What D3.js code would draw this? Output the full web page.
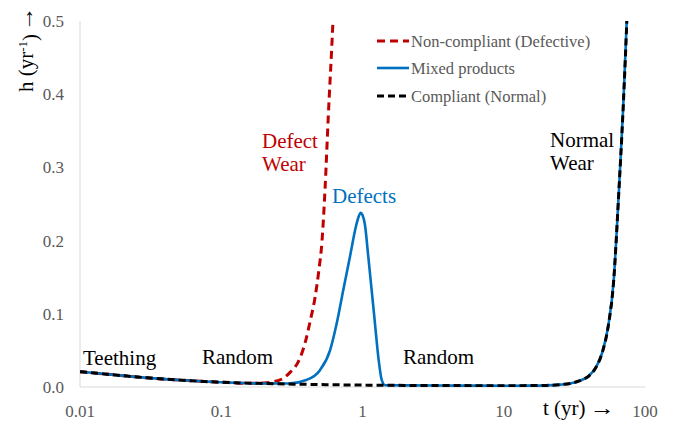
<!DOCTYPE html>
<html>
<head>
<meta charset="utf-8">
<script src="https://cdn.jsdelivr.net/npm/d3@7"></script>
<style>
  body { margin: 0; background: #fff; }
  svg text { font-family: "Liberation Serif", "DejaVu Serif", "Times New Roman", serif; }
</style>
</head>
<body>
<div id="chart"></div>
<script>
// Bathtub hazard curves - log time axis
const width = 675;
const height = 424;

const xTicks = [0.01, 0.1, 1, 10, 100];
const yTicks = [0, 0.1, 0.2, 0.3, 0.4, 0.5];
const yTickLabels = ['0.0', '0.1', '0.2', '0.3', '0.4', '0.5'];

// Compliant (Normal)
const tNormal = [0.01, 0.02, 0.03, 0.05, 0.1, 0.2, 0.5, 1, 2, 5, 10, 15, 20, 25, 30, 35, 40, 45, 50, 55, 60, 65, 70, 75, 78];
const hNormal = [0.021, 0.0155, 0.0125, 0.0095, 0.0065, 0.0048, 0.0033, 0.0026, 0.0022, 0.0019, 0.0018, 0.0019, 0.0022, 0.0032, 0.005, 0.009, 0.015, 0.027, 0.048, 0.084, 0.145, 0.26, 0.38, 0.52, 0.62];

// Mixed products
const tMixed = [0.01, 0.02, 0.03, 0.05, 0.1, 0.2, 0.3, 0.4, 0.5, 0.59, 0.657, 0.731, 0.815, 0.9, 0.94, 0.971, 1.0, 1.04, 1.099, 1.161, 1.225, 1.294, 1.368, 1.443, 1.6, 2, 5, 10, 15, 20, 25, 30, 35, 40, 45, 50, 55, 60, 65, 70, 75, 78];
const hMixed = [0.021, 0.0155, 0.0125, 0.0095, 0.0065, 0.0048, 0.0048, 0.0096, 0.023, 0.0505, 0.087, 0.1325, 0.178, 0.220, 0.233, 0.238, 0.235, 0.222, 0.178, 0.1325, 0.087, 0.041, 0.0096, 0.0024, 0.0023, 0.0022, 0.0019, 0.0018, 0.0019, 0.0022, 0.0032, 0.005, 0.009, 0.015, 0.027, 0.048, 0.084, 0.145, 0.26, 0.38, 0.52, 0.62];

// Non-compliant (Defective)
const tDefect = [0.01, 0.02, 0.03, 0.05, 0.1, 0.16, 0.2, 0.232, 0.27, 0.307, 0.35, 0.392, 0.426, 0.461, 0.49, 0.517, 0.543, 0.571, 0.618, 0.64];
const hDefect = [0.021, 0.0155, 0.0125, 0.0095, 0.0065, 0.005, 0.0055, 0.007, 0.011, 0.02, 0.034, 0.06, 0.09, 0.122, 0.158, 0.2, 0.27, 0.365, 0.5, 0.57];

const series = [
  { name: 'Non-compliant (Defective)', t: tDefect, h: hDefect, color: '#c00000', dash: '8,5', w: 3 },
  { name: 'Mixed products', t: tMixed, h: hMixed, color: '#0070c0', dash: null, w: 2.6 },
  { name: 'Compliant (Normal)', t: tNormal, h: hNormal, color: '#000000', dash: '7,4', w: 3 }
];

const margin = { left: 80, right: 30, top: 21, bottom: 37 };
const x = d3.scaleLog().domain([0.01, 100]).range([margin.left, width - margin.right]);
const y = d3.scaleLinear().domain([0, 0.5]).range([height - margin.bottom, margin.top]);

const svg = d3.select('#chart').append('svg')
  .attr('width', width)
  .attr('height', height);

svg.append('defs').append('clipPath').attr('id', 'plot')
  .append('rect')
  .attr('x', x.range()[0])
  .attr('y', y.range()[1])
  .attr('width', x.range()[1] - x.range()[0])
  .attr('height', y.range()[0] - y.range()[1]);

// Axis lines
svg.append('line')
  .attr('x1', x(0.01)).attr('x2', x(0.01))
  .attr('y1', y(0)).attr('y2', y(0.5))
  .attr('stroke', '#d9d9d9').attr('stroke-width', 1);

svg.append('line')
  .attr('x1', x(0.01)).attr('x2', x(100))
  .attr('y1', y(0)).attr('y2', y(0))
  .attr('stroke', '#d9d9d9').attr('stroke-width', 1);

// Tick labels
svg.append('g').selectAll('text')
  .data(yTicks)
  .join('text')
  .attr('x', x(0.01) - 16)
  .attr('y', d => y(d))
  .attr('dy', '0.35em')
  .attr('text-anchor', 'end')
  .attr('fill', '#595959')
  .attr('font-size', '17px')
  .text((d, i) => yTickLabels[i]);

svg.append('g').selectAll('text')
  .data(xTicks)
  .join('text')
  .attr('x', d => x(d))
  .attr('y', 417)
  .attr('text-anchor', 'middle')
  .attr('fill', '#595959')
  .attr('font-size', '17px')
  .text(d => String(d));

// Axis titles
const yTitle = svg.append('text')
  .attr('transform', 'translate(33, 92) rotate(-90)')
  .attr('fill', '#000')
  .attr('font-size', '21px');
yTitle.append('tspan').text('h (yr');
yTitle.append('tspan').attr('dy', '-0.45em').attr('font-size', '13px').text('-1');
yTitle.append('tspan').attr('dy', '0.45em').text(')');
svg.append('text')
  .attr('transform', 'translate(33, 6) rotate(-90) scale(1.2, 1)')
  .attr('text-anchor', 'end')
  .attr('fill', '#000')
  .attr('font-size', '21px')
  .text('→');

svg.append('text')
  .attr('x', 543)
  .attr('y', 415)
  .attr('fill', '#000')
  .attr('font-size', '21px')
  .text('t (yr)');
svg.append('text')
  .attr('transform', 'translate(615, 415) scale(1.2, 1)')
  .attr('text-anchor', 'end')
  .attr('fill', '#000')
  .attr('font-size', '21px')
  .text('→');

// Curves
const line = d3.line()
  .x(d => d[0])
  .y(d => d[1])
  .curve(d3.curveMonotoneX);

const curves = svg.append('g').attr('clip-path', 'url(#plot)');
series.forEach(s => {
  const pts = s.t.map((t, i) => [x(t), y(s.h[i])]);
  curves.append('path')
    .attr('d', line(pts))
    .attr('fill', 'none')
    .attr('stroke', s.color)
    .attr('stroke-width', s.w)
    .attr('stroke-dasharray', s.dash)
    .attr('stroke-linejoin', 'round');
});

// Legend
const legend = svg.append('g');
const legendY = [41, 68, 96];
series.forEach((s, i) => {
  legend.append('line')
    .attr('x1', 377).attr('x2', 409)
    .attr('y1', legendY[i]).attr('y2', legendY[i])
    .attr('stroke', s.color)
    .attr('stroke-width', s.w)
    .attr('stroke-dasharray', s.dash);
  legend.append('text')
    .attr('x', 411)
    .attr('y', legendY[i])
    .attr('dy', '0.35em')
    .attr('fill', '#595959')
    .attr('font-size', '16.5px')
    .text(s.name);
});

// Annotations
const notes = [
  { lines: ['Teething'], x: 83, y: 365, color: '#000' },
  { lines: ['Random'], x: 202, y: 364, color: '#000' },
  { lines: ['Random'], x: 403, y: 364, color: '#000' },
  { lines: ['Defect', 'Wear'], x: 262, y: 148, color: '#c00000' },
  { lines: ['Defects'], x: 332, y: 203, color: '#0070c0' },
  { lines: ['Normal', 'Wear'], x: 550, y: 147, color: '#000' }
];
notes.forEach(n => {
  const t = svg.append('text')
    .attr('x', n.x)
    .attr('y', n.y)
    .attr('fill', n.color)
    .attr('font-size', '21px');
  n.lines.forEach((l, i) => {
    t.append('tspan').attr('x', n.x).attr('dy', i === 0 ? 0 : 23).text(l);
  });
});
</script>
</body>
</html>
